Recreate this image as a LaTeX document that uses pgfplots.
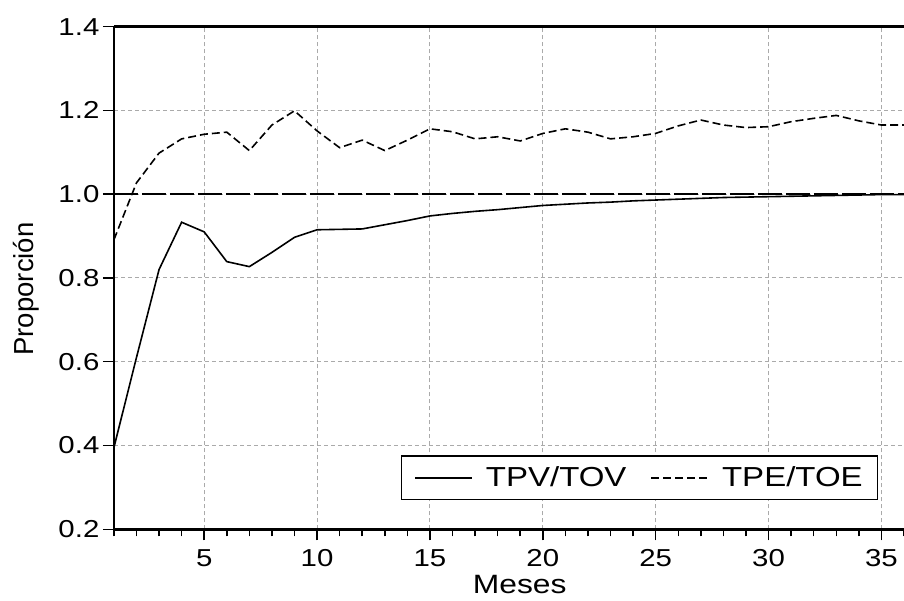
\documentclass[border=0pt]{standalone}
\usepackage{fontspec}
\setmainfont{Liberation Sans}[FakeStretch=1.2]
\newfontfamily\ylabfont{Liberation Sans}
\usepackage{pgfplots}
\pgfplotsset{compat=1.18}
\definecolor{gridgray}{RGB}{170,170,170}

\pgfplotstableread{
x y
1 0.395
2 0.61
3 0.82
4 0.933
5 0.910
6 0.839
7 0.827
8 0.861
9 0.897
10 0.915
11 0.916
12 0.917
13 0.927
14 0.937
15 0.948
16 0.954
17 0.959
18 0.963
19 0.968
20 0.973
21 0.976
22 0.979
23 0.981
24 0.984
25 0.986
26 0.988
27 0.990
28 0.992
29 0.993
30 0.994
31 0.995
32 0.996
33 0.997
34 0.998
35 0.999
36 0.999
}\tpv

\pgfplotstableread{
x y
1 0.891
2 1.027
3 1.098
4 1.132
5 1.143
6 1.148
7 1.104
8 1.165
9 1.199
10 1.151
11 1.111
12 1.129
13 1.104
14 1.129
15 1.156
16 1.149
17 1.132
18 1.137
19 1.127
20 1.145
21 1.156
22 1.148
23 1.132
24 1.137
25 1.145
26 1.163
27 1.177
28 1.165
29 1.159
30 1.161
31 1.173
32 1.181
33 1.188
34 1.175
35 1.165
36 1.165
}\tpe

\begin{document}
\begin{tikzpicture}
\begin{axis}[
  scale only axis, width=790.1pt, height=502.7pt,
  xmin=1, xmax=36, ymin=0.2, ymax=1.4,
  axis x line*=box, axis y line*=left,
  axis line style={line width=2.5pt},
  xtick={5,10,...,35},
  minor xtick={1,...,36},
  ytick={0.2,0.4,0.6,0.8,1.0,1.2,1.4},
  yticklabel style={/pgf/number format/.cd, fixed, fixed zerofill, precision=1},
  /pgf/number format/assume math mode=true,
  xtick pos=left, ytick pos=left,
  tick align=outside,
  major tick length=11pt, minor tick length=7pt,
  every tick/.style={black, line width=1.5pt},
  ticklabel style={font=\fontsize{24.5}{28}\selectfont},
  xticklabel shift=6pt,
  grid=major,
  major grid style={gridgray, dash pattern=on 4pt off 3pt, line width=1pt},
  xlabel={Meses},
  xlabel shift=1pt,
  xlabel style={font=\fontsize{26.5}{30}\selectfont, at={(ticklabel cs:0.5136)}},
  ylabel={Proporción},
  ylabel shift=12pt,
  ylabel style={font=\ylabfont\fontsize{27.5}{32}\selectfont, at={(ticklabel cs:0.478)}},
  legend style={at={(rel axis cs:0.9675,0.058)}, anchor=south east, draw=black, line width=1.3pt,
    font=\fontsize{27.5}{32}\selectfont, inner xsep=13pt, inner ysep=9pt,
    /tikz/every odd column/.append style={column sep=11pt},
    /tikz/every even column/.append style={column sep=22pt}},
  legend columns=2,
  legend image code/.code={\draw[#1] (0pt,0pt) -- (57pt,0pt);},
]
\addplot[black, line width=2.3pt, dash pattern=on 24pt off 4pt, forget plot] coordinates {(1,1) (36,1)};
\addplot[black, line width=1.6pt] table[x=x,y=y]{\tpv};
\addlegendentry{TPV/TOV}
\addplot[black, line width=1.6pt, dash pattern=on 8pt off 4pt] table[x=x,y=y]{\tpe};
\addlegendentry{TPE/TOE}
\end{axis}
\pgfresetboundingbox
\path (current axis.south west) ++(-113.9pt,-70.7pt) rectangle ++(904pt,600pt);
\end{tikzpicture}
\end{document}
